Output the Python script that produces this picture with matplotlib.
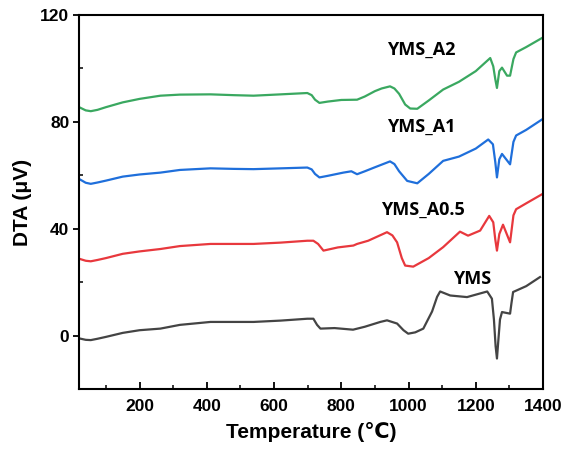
import numpy as np
import matplotlib.pyplot as plt
from matplotlib.ticker import MultipleLocator

# DTA curves (temperature in C, signal in uV)
tA2 = [22, 40, 55, 75, 100, 150, 200, 262, 320, 411, 480, 539, 620, 699, 712,
       722, 735, 760, 800, 847, 870, 900, 920, 945, 958, 972, 990, 1005, 1026,
       1060, 1103, 1150, 1200, 1243, 1252, 1258, 1263, 1270, 1278, 1293, 1302,
       1312, 1320, 1350, 1397]
vA2 = [85.4, 84.3, 84.0, 84.5, 85.5, 87.3, 88.6, 89.8, 90.2, 90.3, 90.0, 89.8,
       90.3, 90.8, 90.0, 88.3, 87.1, 87.6, 88.2, 88.3, 89.5, 91.5, 92.5, 93.3,
       92.5, 90.5, 86.5, 85.0, 84.9, 88.0, 92.1, 95.0, 99.0, 103.9, 100.8,
       96.0, 92.7, 99.0, 100.3, 97.3, 97.3, 103.5, 106.0, 108.0, 111.4]

tA1 = [22, 40, 55, 75, 100, 150, 200, 262, 320, 411, 480, 539, 620, 699, 712,
       722, 735, 760, 806, 830, 847, 870, 900, 945, 958, 972, 996, 1026, 1060,
       1103, 1150, 1200, 1237, 1251, 1258, 1263, 1270, 1278, 1302, 1312, 1320,
       1350, 1397]
vA1 = [58.5, 57.2, 56.8, 57.3, 58.0, 59.5, 60.3, 61.0, 62.0, 62.6, 62.4, 62.3,
       62.6, 62.9, 62.2, 60.5, 59.2, 59.8, 61.0, 61.5, 60.4, 61.5, 63.0, 65.2,
       64.2, 61.5, 57.9, 57.0, 60.5, 65.4, 67.0, 70.0, 73.4, 71.6, 65.0, 59.2,
       66.0, 68.0, 64.1, 72.5, 74.9, 77.0, 80.9]

tA05 = [22, 40, 55, 75, 100, 150, 200, 262, 320, 411, 480, 539, 620, 699, 717,
        731, 747, 790, 836, 847, 880, 936, 952, 966, 980, 990, 1014, 1060, 1103,
        1153, 1177, 1213, 1240, 1252, 1258, 1263, 1270, 1281, 1302, 1312, 1320,
        1350, 1397]
vA05 = [28.7, 28.0, 27.8, 28.3, 29.0, 30.6, 31.5, 32.4, 33.5, 34.3, 34.3, 34.3,
        34.8, 35.5, 35.5, 34.3, 31.8, 33.0, 33.7, 34.3, 35.5, 38.7, 37.5, 34.9,
        29.0, 26.2, 25.8, 29.0, 33.1, 38.9, 37.4, 39.3, 44.8, 42.4, 36.0, 31.8,
        38.0, 41.5, 34.9, 45.0, 47.3, 49.5, 52.9]

tYMS = [22, 40, 55, 75, 100, 150, 200, 262, 320, 411, 480, 539, 620, 699, 717,
        728, 738, 780, 835, 870, 916, 936, 966, 985, 999, 1020, 1044, 1070, 1085,
        1094, 1124, 1174, 1234, 1248, 1254, 1259, 1263, 1267, 1272, 1278, 1302,
        1306, 1311, 1350, 1391]
vYMS = [-1.1, -1.6, -1.7, -1.2, -0.5, 1.0, 2.0, 2.6, 4.0, 5.1, 5.1, 5.1, 5.6,
        6.3, 6.3, 4.0, 2.6, 2.8, 2.2, 3.3, 5.1, 5.7, 4.5, 2.0, 0.7, 1.2, 2.6,
        9.0, 14.5, 16.5, 15.0, 14.4, 16.5, 13.8, 6.0, -4.0, -8.6, -2.0, 6.0,
        8.8, 8.2, 12.0, 16.3, 18.5, 21.9]

series = [
    ("YMS", tYMS, vYMS, "#444444", 1133, 21),
    ("YMS_A0.5", tA05, vA05, "#e8383d", 917, 47),
    ("YMS_A1", tA1, vA1, "#1f6fdb", 935, 78),
    ("YMS_A2", tA2, vA2, "#3aa860", 937, 107),
]

plt.rcParams['font.family'] = ['Liberation Sans', 'DejaVu Sans']

fig = plt.figure(figsize=(5.66, 4.58), dpi=100)
ax = fig.add_axes([0.1396, 0.1507, 0.8198, 0.8165])

for name, t, v, col, lx, ly in series:
    ax.plot(t, v, color=col, lw=1.6, solid_joinstyle='round')
    ax.text(lx, ly, name, fontsize=13, fontweight='bold',
            family=['Open Sans', 'DejaVu Sans'], va='center', ha='left')

ax.set_xlim(20, 1400)
ax.set_ylim(-20, 120)
ax.xaxis.set_minor_locator(MultipleLocator(100))
ax.yaxis.set_major_locator(MultipleLocator(40))
ax.yaxis.set_minor_locator(MultipleLocator(20))
ax.set_xticks([200, 400, 600, 800, 1000, 1200, 1400])
ax.tick_params(axis='x', which='major', direction='in', length=5, width=1.3, pad=7)
ax.tick_params(axis='x', which='minor', direction='in', length=3, width=1.1)
ax.tick_params(axis='y', which='major', direction='out', length=4, width=1.3, pad=3)
ax.tick_params(axis='y', which='minor', direction='in', length=3, width=1.1)
for lab in ax.get_xticklabels() + ax.get_yticklabels():
    lab.set_fontweight('bold')
    lab.set_fontsize(12.5)
for sp in ax.spines.values():
    sp.set_linewidth(1.5)

ax.set_xlabel("Temperature (\u2103)", fontsize=15, fontweight='bold', labelpad=6)
ax.set_ylabel("DTA (\u03bcV)", fontsize=15, fontweight='bold', labelpad=6)

fig.savefig("out.png", dpi=100)
